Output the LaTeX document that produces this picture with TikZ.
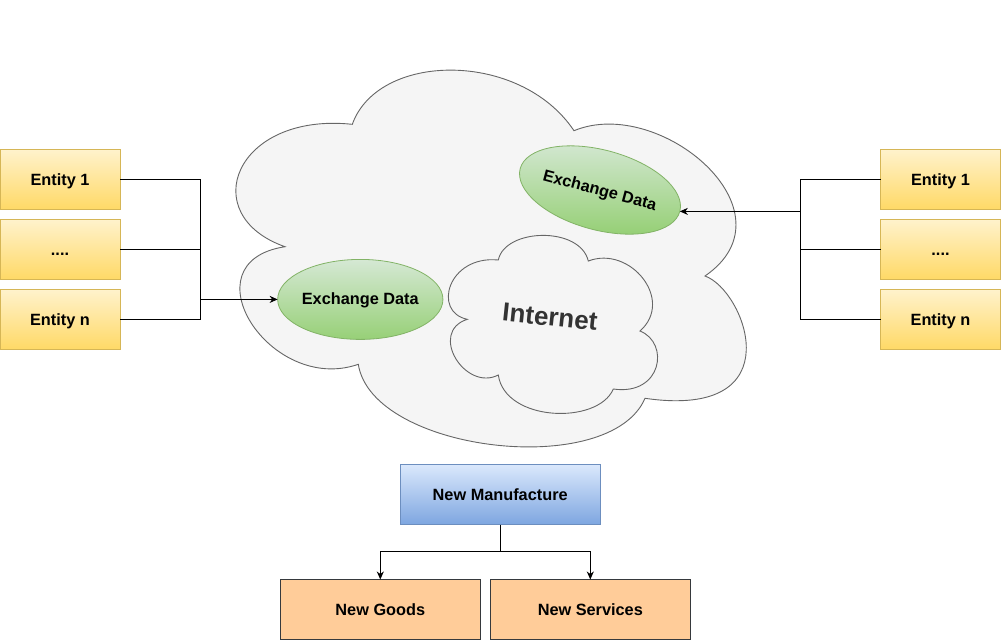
\documentclass[tikz,border=0pt]{standalone}
\usepackage{fontspec}
\setmainfont{Liberation Sans}
\usetikzlibrary{shapes.geometric,arrows.meta}
\definecolor{entA}{HTML}{FFF2CC}
\definecolor{entB}{HTML}{FFD966}
\definecolor{entS}{HTML}{D6B656}
\definecolor{grA}{HTML}{D5E8D4}
\definecolor{grB}{HTML}{97D077}
\definecolor{grS}{HTML}{82B366}
\definecolor{blA}{HTML}{DAE8FC}
\definecolor{blB}{HTML}{7EA6E0}
\definecolor{blS}{HTML}{6C8EBF}
\definecolor{orF}{HTML}{FFCC99}
\definecolor{orS}{HTML}{36393D}
\definecolor{clF}{HTML}{F5F5F5}
\definecolor{clS}{HTML}{666666}
\definecolor{txG}{HTML}{333333}
\newcommand\lab{\fontsize{16.3}{19}\selectfont\bfseries}
\newcommand\biglab{\fontsize{26}{30}\selectfont\bfseries}
\tikzset{
  txt/.style={font=\lab, text height=11pt, text depth=0pt},
  entity/.style={txt, draw=entS, line width=0.8pt, top color=entA, bottom color=entB,
    minimum width=120pt, minimum height=60pt, inner sep=0pt, outer sep=0pt},
  exch/.style={txt, ellipse, draw=grS, line width=0.8pt, top color=grA, bottom color=grB,
    minimum width=160pt, minimum height=80pt, inner sep=0pt, outer sep=0pt},
  manuf/.style={txt, draw=blS, line width=0.8pt, top color=blA, bottom color=blB,
    minimum width=200pt, minimum height=60pt, inner sep=0pt, outer sep=0pt},
  prod/.style={txt, draw=orS, line width=0.8pt, fill=orF,
    minimum width=200pt, minimum height=60pt, inner sep=0pt, outer sep=0pt},
  cloudst/.style={fill=clF, draw=clS, line width=0.9pt},
  conn/.style={draw=black, line width=1pt},
  arr/.style={conn, -{Stealth[length=8pt,width=7pt,inset=2.5pt]}}
}
\begin{document}
\begin{tikzpicture}[x=1pt,y=-1pt]
\useasboundingbox (0,0) rectangle (1001,641);

% outer cloud (one cubic per lobe)
\path[cloudst] (352.3,124.3)
  .. controls (378,52) and (520,50) .. (574,130.7)
  .. controls (660,95) and (798,212) .. (705,276)
  .. controls (745,290) and (795,420) .. (645,398.3)
  .. controls (610,480) and (372,452) .. (358.3,364.3)
  .. controls (270,395) and (185,262) .. (285,246.7)
  .. controls (195,215) and (235,112) .. (352.3,124.3)
  -- cycle;

% internet cloud
\path[cloudst] (498.3,260)
  .. controls (505,228) and (580,226) .. (588.3,261)
  .. controls (630,245) and (675,300) .. (640,331)
  .. controls (670,343) and (662,396) .. (613.3,389)
  .. controls (598,425) and (505,422) .. (498.3,375)
  .. controls (465,392) and (428,332) .. (467.3,319.3)
  .. controls (432,312) and (448,255) .. (498.3,260)
  -- cycle;
\node[text=txG, font=\biglab, rotate=-6, inner sep=0pt] (inet) at (550,317) {Internet};

% exchange ellipses
\node[exch] (ed1) at (360.3,299.4) {Exchange Data};
\node[exch, rotate=-15] (ed2) at (600,190) {Exchange Data};

% left entities
\node[entity] (l1) at (60,179.5) {Entity 1};
\node[entity] (l2) at (60,249.5) {....};
\node[entity] (ln) at (60,319.5) {Entity n};
% right entities
\node[entity] (r1) at (940.5,179.5) {Entity 1};
\node[entity] (r2) at (940.5,249.5) {....};
\node[entity] (rn) at (940.5,319.5) {Entity n};

\coordinate (lbus) at (200.3,0);
\coordinate (rbus) at (800.3,0);

\draw[conn] (l1.east) -- (l1.east -| lbus) -- (ln.east -| lbus) -- (ln.east);
\draw[conn] (l2.east) -- (l2.east -| lbus);
\draw[arr] (lbus |- ed1.west) -- (ed1.west);

\draw[conn] (r1.west) -- (r1.west -| rbus) -- (rn.west -| rbus) -- (rn.west);
\draw[conn] (r2.west) -- (r2.west -| rbus);
\draw[arr] (ed2.east -| rbus) -- (ed2.east);

% bottom
\node[manuf] (nm) at (500.2,494.5) {New Manufacture};
\node[prod] (ng) at (380.3,609.5) {New Goods};
\node[prod] (ns) at (590.3,609.5) {New Services};
\coordinate (split) at (500.2,551.7);
\draw[arr] (nm.south) -- (split) -| (ng.north);
\draw[arr] (split) -| (ns.north);
\end{tikzpicture}
\end{document}
